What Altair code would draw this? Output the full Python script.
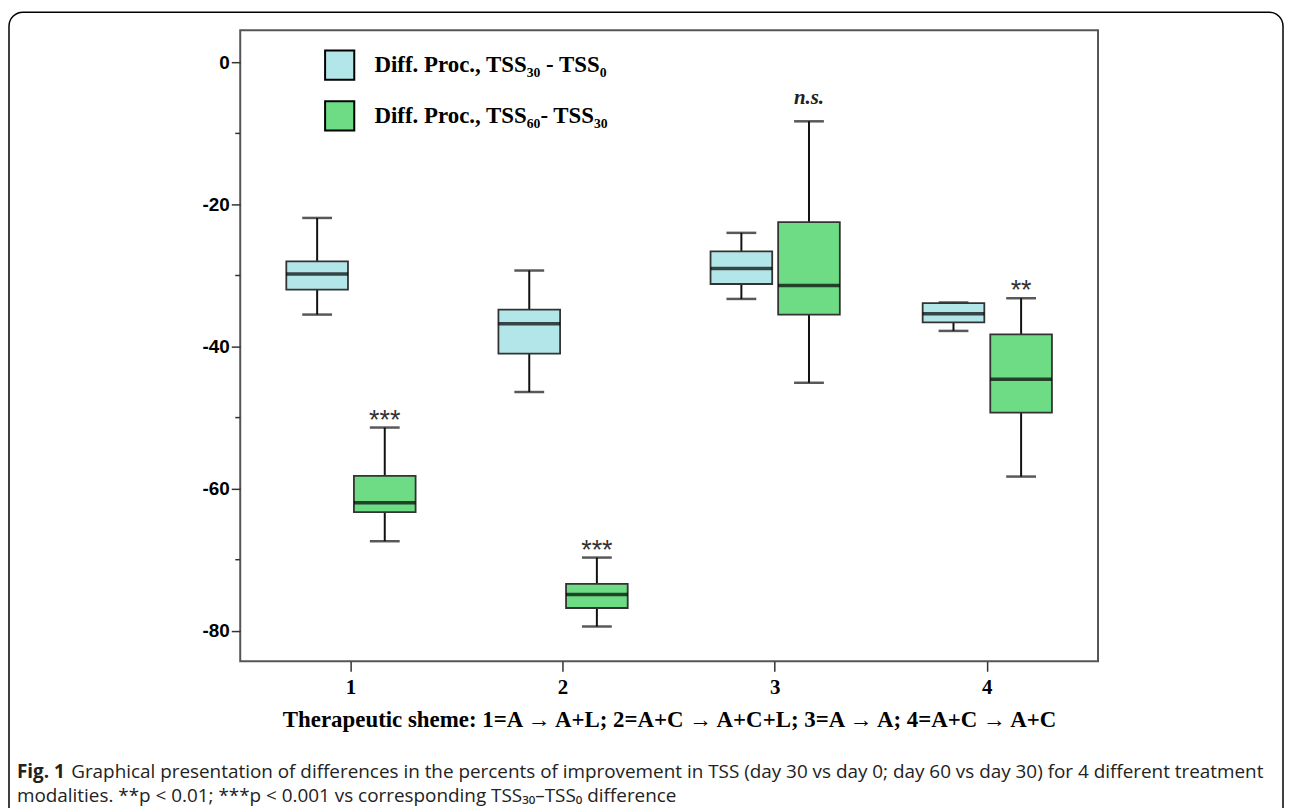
import altair as alt
import pandas as pd

# ---------------- data ----------------
groups = ["1", "2", "3", "4"]
series = ["Diff. Proc., TSS₃₀ - TSS₀", "Diff. Proc., TSS₆₀- TSS₃₀"]

cyan_lo = [-35.5, -46.4, -33.3, -37.8]
cyan_q1 = [-32.0, -41.0, -31.2, -36.6]
cyan_med = [-29.8, -36.8, -29.0, -35.4]
cyan_q3 = [-28.0, -34.8, -26.6, -33.9]
cyan_hi = [-21.9, -29.3, -24.0, -33.8]

green_lo = [-67.4, -79.4, -45.1, -58.3]
green_q1 = [-63.3, -76.8, -35.5, -49.3]
green_med = [-62.0, -74.9, -31.4, -44.6]
green_q3 = [-58.2, -73.4, -22.5, -38.3]
green_hi = [-51.4, -69.7, -8.3, -33.2]

sig_marks = ["***", "***", "n.s.", "**"]

y_ticks = [-80, -60, -40, -20, 0]
y_minor = [-70, -50, -30, -10]

x_title = "Therapeutic sheme: 1=A → A+L; 2=A+C → A+C+L; 3=A → A; 4=A+C → A+C"
cap_bold = "Fig. 1"
cap_line1 = ("Graphical presentation of differences in the percents of improvement in TSS "
             "(day 30 vs day 0; day 60 vs day 30) for 4 different treatment")
cap_line2 = "modalities. **p < 0.01; ***p < 0.001 vs corresponding TSS₃₀–TSS₀ difference"

colors = ["#b3e6e8", "#6edc85"]

rows = []
for i, g in enumerate(groups):
    rows.append(dict(group=g, series=series[0], lo=cyan_lo[i], q1=cyan_q1[i],
                     med=cyan_med[i], q3=cyan_q3[i], hi=cyan_hi[i], sig=""))
    rows.append(dict(group=g, series=series[1], lo=green_lo[i], q1=green_q1[i],
                     med=green_med[i], q3=green_q3[i], hi=green_hi[i], sig=sig_marks[i]))
df = pd.DataFrame(rows)

# ---------------- scales ----------------
yscale = alt.Scale(domain=[-84.3, 4.5], nice=False, zero=False)
xenc = alt.X(
    "group:N",
    sort=groups,
    scale=alt.Scale(paddingInner=0, paddingOuter=0.022),
    axis=alt.Axis(
        title=x_title, labelAngle=0, labelFont="Liberation Serif", labelFontWeight="bold",
        labelFontSize=21, labelColor="black", labelPadding=5, tickSize=10, tickWidth=1.5,
        tickColor="#333", domain=False, titleFont="Liberation Serif", titleFontWeight="bold",
        titleFontSize=23, titleColor="black", titlePadding=12,
    ),
)
xoff = alt.XOffset("series:N", sort=series,
                   scale=alt.Scale(domain=series, paddingInner=0.088, paddingOuter=0.6125))

yaxis = alt.Axis(values=y_ticks, labelFont="Liberation Sans", labelFontWeight="bold",
                 labelFontSize=19, labelColor="black", tickSize=9, tickWidth=1.5,
                 tickColor="#333", labelPadding=2, domain=False, grid=False, title=None,
                 labelExpr="'' + datum.value")

base = alt.Chart(df)

whisker = base.mark_rule(color="#111", strokeWidth=2).encode(
    x=xenc, xOffset=xoff,
    y=alt.Y("lo:Q", scale=yscale, axis=yaxis), y2="hi:Q")

caps_lo = base.mark_tick(color="#111", size=30, thickness=2.5).encode(
    x=xenc, xOffset=xoff, y=alt.Y("lo:Q", scale=yscale))
caps_hi = base.mark_tick(color="#111", size=30, thickness=2.5).encode(
    x=xenc, xOffset=xoff, y=alt.Y("hi:Q", scale=yscale))

box = base.mark_bar(stroke="#333", strokeWidth=1.8).encode(
    x=xenc, xOffset=xoff,
    y=alt.Y("q1:Q", scale=yscale), y2="q3:Q",
    color=alt.Color(
        "series:N",
        scale=alt.Scale(domain=series, range=colors),
        legend=alt.Legend(
            title=None, orient="none", legendX=84, legendY=19, symbolType="square",
            symbolSize=860, symbolStrokeColor="black", symbolStrokeWidth=2,
            symbolOpacity=1, labelFont="Liberation Serif", labelFontWeight="bold",
            labelFontSize=23, labelColor="black", labelOffset=19, rowPadding=13,
            labelLimit=0,
        ),
    ),
)

median = base.mark_tick(color="black", size=62, thickness=3.5).encode(
    x=xenc, xOffset=xoff, y=alt.Y("med:Q", scale=yscale))

stars = base.transform_filter(alt.datum.sig != "").transform_filter(
    alt.datum.sig != "n.s.").mark_text(
    font="Liberation Sans", fontSize=27, color="#333", baseline="alphabetic", dy=1).encode(
    x=xenc, xOffset=xoff, y=alt.Y("hi:Q", scale=yscale), text="sig:N")

ns = base.transform_filter(alt.datum.sig == "n.s.").mark_text(
    font="Liberation Serif", fontSize=21, fontStyle="italic", fontWeight="bold",
    color="#222", baseline="alphabetic", dy=-17).encode(
    x=xenc, xOffset=xoff, y=alt.Y("hi:Q", scale=yscale), text="sig:N")

minor = alt.Chart(pd.DataFrame({"v": y_minor})).mark_rule(
    color="#333", strokeWidth=1.5).encode(
    y=alt.Y("v:Q", scale=yscale), x=alt.value(-5), x2=alt.value(0))

one = pd.DataFrame({"k": [0]})
border = alt.Chart(one).mark_rect(
    fillOpacity=0, stroke="black", strokeWidth=1.5, cornerRadius=14).encode(
    x=alt.value(-232.5), x2=alt.value(1048.5), y=alt.value(-18.3), y2=alt.value(830))

cap_b = alt.Chart(one).mark_text(
    align="left", baseline="middle", font="Open Sans", fontWeight="bold",
    fontSize=19, color="#222").encode(
    x=alt.value(-224.5), y=alt.value(745.5), text=alt.value(cap_bold))
cap_1 = alt.Chart(one).mark_text(
    align="left", baseline="middle", font="Open Sans", fontSize=19,
    color="#222").encode(
    x=alt.value(-170), y=alt.value(745.5), text=alt.value(cap_line1))
cap_2 = alt.Chart(one).mark_text(
    align="left", baseline="middle", font="Open Sans", fontSize=19,
    color="#222").encode(
    x=alt.value(-224.5), y=alt.value(770), text=alt.value(cap_line2))

chart = alt.layer(
    whisker, caps_lo, caps_hi, box, median, stars, ns, minor, border, cap_b, cap_1, cap_2
).properties(
    width=862.5, height=634.4,
    padding={"left": 233.5, "top": 20.3, "right": 187, "bottom": 145},
    autosize="none",
    background="white",
).configure_view(stroke="#555", strokeWidth=2)

chart.save("out.html", embed_options={"renderer": "svg", "actions": False})
